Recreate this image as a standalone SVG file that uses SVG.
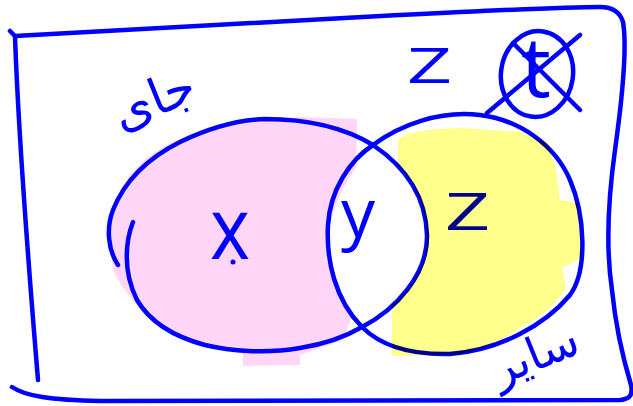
<svg xmlns="http://www.w3.org/2000/svg" width="633" height="406" viewBox="0 0 633 406">
<style>
.ink{fill:none;stroke:#0000ff;stroke-width:4.5;stroke-linecap:round;stroke-linejoin:round}
.lbl{fill:#0000ff;font-family:"Open Sans","DejaVu Sans",sans-serif;font-weight:400}
.fa{fill:#0000ff;font-family:"DejaVu Sans",sans-serif}
</style>
<rect width="633" height="406" fill="#ffffff"/>
<g id="region-x-fill">
<path fill="#ffd5f8" d="M113,268 C107,235 112,200 128,178 C150,148 190,130 240,122 L300,117 L357,119 L356,168 C345,182 330,210 328,240 C328,270 336,296 352,316 L343,340 L300,355 L300,365 L243,366 L243,354 L222,347 L200,344 L160,325 C135,305 118,285 113,268 Z"/>
</g>
<g id="set-x">
<path class="ink" d="M133,222 C126,240 122,270 137,300 C150,322 175,337 205,345 C230,351 265,354 300,348 C325,344 345,337 362,327 C395,310 428,275 427,235 C426,200 410,170 373,145 C345,128 310,119 265,119 C235,120 205,130 180,142 C150,157 125,180 113,210 C106,228 108,250 118,265"/>
</g>
<g id="set-z">
<path class="ink" d="M373,145 C350,160 330,190 328,225 C326,260 335,300 362,327 C380,345 410,355 450,354 C500,350 545,325 570,295 C588,270 585,215 570,180 C555,145 520,120 480,115 C440,110 400,125 373,145"/>
</g>
<g id="label-x">
<text class="lbl" x="230" y="259" font-size="86" text-anchor="middle" textLength="40" lengthAdjust="spacingAndGlyphs">x</text>
<circle cx="233" cy="262" r="2.5" fill="#0000ff"/>
</g>
<g id="label-y">
<text class="lbl" x="358" y="237" font-size="68" text-anchor="middle">y</text>
</g>
<g id="label-z">
<text class="lbl" x="445" y="230" font-size="52" textLength="45" lengthAdjust="spacingAndGlyphs">Z</text>
</g>
<g id="label-z-top">
<text class="lbl" x="407" y="83" font-size="50" textLength="45" lengthAdjust="spacingAndGlyphs">Z</text>
</g>
<g id="crossed-symbol">
<ellipse class="ink" cx="537" cy="74" rx="36" ry="43" transform="rotate(8 537 74)"/>
<text class="lbl" x="536" y="97" font-size="84" text-anchor="middle">t</text>
<path class="ink" d="M487,113 L580,35 M513,43 L580,110"/>
</g>
<g id="label-jay">
<text class="fa" x="154" y="116" font-size="50" text-anchor="middle" transform="rotate(-22 154 100)">جای</text>
</g>
<g id="label-sayer">
<text class="fa" x="536" y="370" font-size="46" text-anchor="middle" transform="rotate(-22 536 358)">سایر</text>
</g>
<g id="frame">
<path class="ink" d="M10,31 L15,36 C100,32 250,22 400,15 C480,11 560,7 600,7 C612,7 620,12 623,22 C627,45 622,100 615,150 C608,200 606,250 612,290 C616,330 625,365 631,385 C633,395 630,399 620,400 L100,401 C50,400 25,396 12,387"/>
<path class="ink" d="M15,37 C18,120 28,260 38,380"/>
</g>
<g id="region-z-fill" style="mix-blend-mode:multiply">
<path fill="#ffff8c" d="M398,140 C405,132 430,129 460,128 L520,132 L548,143 L556,170 L560,200 L578,203 L581,258 L562,268 L566,288 C555,305 540,318 520,328 C500,342 480,350 458,355 L392,356 L392,305 C412,290 428,265 427,235 C426,205 414,183 403,170 L398,165 Z"/>
</g>
</svg>
